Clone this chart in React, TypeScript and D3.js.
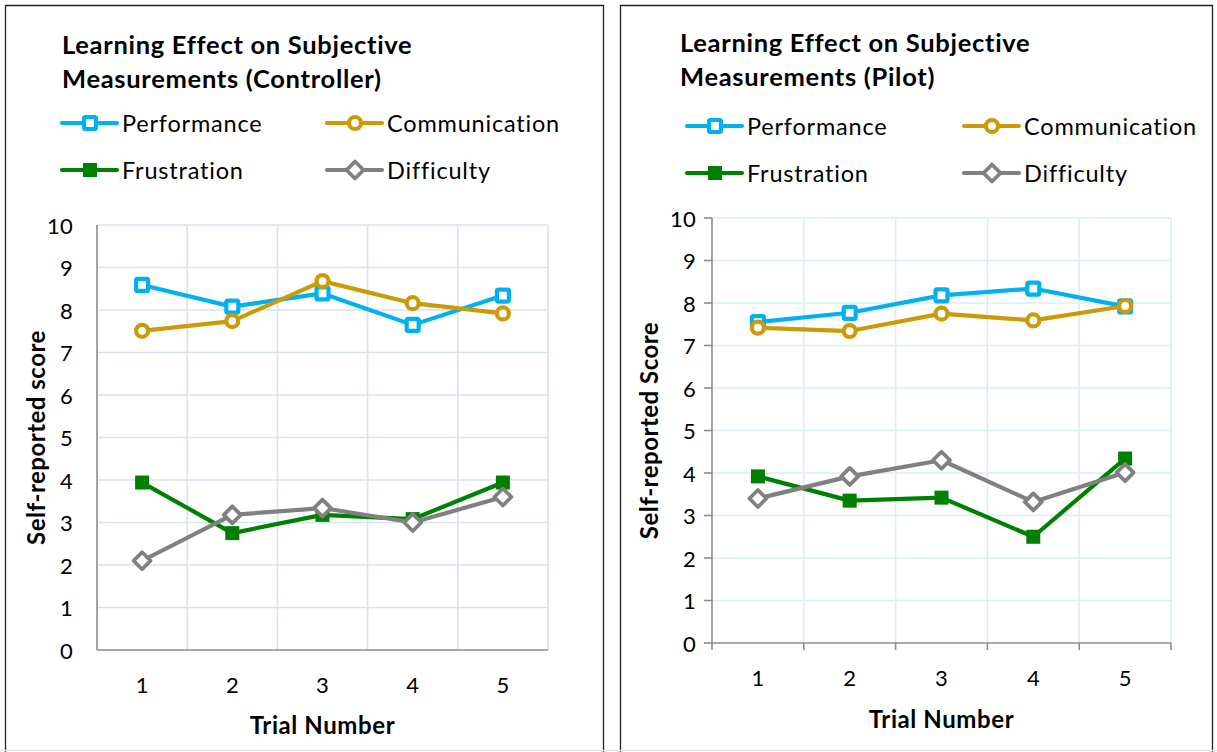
import React from "react";
import * as d3 from "d3";

const trials = ["1", "2", "3", "4", "5"];
const yTicks = [0, 1, 2, 3, 4, 5, 6, 7, 8, 9, 10];
const seriesNames = ["Performance", "Communication", "Frustration", "Difficulty"];

const controllerPerformance = [8.59, 8.08, 8.39, 7.65, 8.34];
const controllerCommunication = [7.51, 7.74, 8.68, 8.16, 7.92];
const controllerFrustration = [3.94, 2.75, 3.18, 3.08, 3.94];
const controllerDifficulty = [2.1, 3.18, 3.34, 3.0, 3.6];

const pilotPerformance = [7.55, 7.77, 8.18, 8.34, 7.92];
const pilotCommunication = [7.42, 7.34, 7.75, 7.59, 7.93];
const pilotFrustration = [3.92, 3.35, 3.42, 2.5, 4.34];
const pilotDifficulty = [3.4, 3.92, 4.3, 3.32, 4.01];

const COLORS: Record<string, string> = {
  Performance: "#00B0F0",
  Communication: "#CC9A06",
  Frustration: "#008000",
  Difficulty: "#808080",
};

const FONT = "Lato, 'Open Sans', sans-serif";

function Marker({ name, x, y }: { name: string; x: number; y: number }) {
  const c = COLORS[name];
  if (name === "Performance")
    return <rect x={x - 6} y={y - 6} width={12} height={12} rx={1.5} fill="#fff" stroke={c} strokeWidth={4.2} />;
  if (name === "Communication")
    return <circle cx={x} cy={y} r={6} fill="#fff" stroke={c} strokeWidth={4.2} />;
  if (name === "Frustration")
    return <rect x={x - 7} y={y - 7} width={14} height={14} fill={c} />;
  return <path d={`M${x},${y - 8.5}L${x + 8.5},${y}L${x},${y + 8.5}L${x - 8.5},${y}Z`} fill="#fff" stroke={c} strokeWidth={3.8} strokeLinejoin="round" />;
}

type PanelProps = {
  title: string[];
  titleX: number;
  titleY: number[];
  yTitle: string;
  yTitleX: number;
  legendX: number[];
  legendY: number[];
  data: number[][];
  x0: number;
  x1: number;
  yBottom: number;
  yTop: number;
  gridColor: string;
  tickMarks: boolean;
  yLabelGap: number;
  xLabelY: number;
  xTitleY: number;
};

function Panel(p: PanelProps) {
  const x = d3.scaleBand<string>().domain(trials).range([p.x0, p.x1]).padding(0);
  const y = d3.scaleLinear().domain([0, 10]).range([p.yBottom, p.yTop]);
  const bw = x.bandwidth();
  const cx = (t: string) => (x(t) as number) + bw / 2;
  const line = d3
    .line<number>()
    .x((_, i) => cx(trials[i]))
    .y((v) => y(v));
  const boundaries = trials.map((t) => (x(t) as number) + bw);
  const midX = (p.x0 + p.x1) / 2;
  const midY = (p.yBottom + p.yTop) / 2;
  return (
    <g fontFamily={FONT}>
      {p.title.map((t, i) => (
        <text key={i} x={p.titleX} y={p.titleY[i]} fontSize={25.5} letterSpacing={0.7} fontWeight="bold" fill="#000">
          {t}
        </text>
      ))}
      {seriesNames.map((s, i) => {
        const lx = p.legendX[i % 2];
        const ly = p.legendY[Math.floor(i / 2)];
        return (
          <g key={s}>
            <line x1={lx} x2={lx + 55} y1={ly} y2={ly} stroke={COLORS[s]} strokeWidth={4.2} strokeLinecap="round" />
            <Marker name={s} x={lx + 28} y={ly} />
            <text x={lx + 60} y={ly} dominantBaseline="central" fontSize={23.5} letterSpacing={0.8} fill="#000">
              {s}
            </text>
          </g>
        );
      })}
      {yTicks.filter((v) => v > 0).map((v) => (
        <line key={"h" + v} x1={p.x0} x2={p.x1} y1={y(v)} y2={y(v)} stroke={p.gridColor} strokeWidth={1.6} />
      ))}
      {boundaries.map((bx, i) => (
        <line key={"v" + i} x1={bx} x2={bx} y1={p.yTop} y2={p.yBottom} stroke={p.gridColor} strokeWidth={1.6} />
      ))}
      <line x1={p.x0} x2={p.x0} y1={p.yTop} y2={p.yBottom} stroke="#8C8C8C" strokeWidth={1.6} />
      <line x1={p.x0} x2={p.x1} y1={p.yBottom} y2={p.yBottom} stroke="#8C8C8C" strokeWidth={1.6} />
      {p.tickMarks &&
        yTicks.map((v) => (
          <line key={"yt" + v} x1={p.x0 - 8} x2={p.x0} y1={y(v)} y2={y(v)} stroke="#8C8C8C" strokeWidth={1.6} />
        ))}
      {p.tickMarks &&
        [p.x0, ...boundaries].map((bx, i) => (
          <line key={"xt" + i} x1={bx} x2={bx} y1={p.yBottom} y2={p.yBottom + 7} stroke="#8C8C8C" strokeWidth={1.6} />
        ))}
      {yTicks.map((v) => (
        <text key={"yl" + v} x={p.x0 - p.yLabelGap} y={y(v)} textAnchor="end" dominantBaseline="central" fontSize={22} letterSpacing={0.3} fill="#000">
          {v}
        </text>
      ))}
      {trials.map((t) => (
        <text key={"xl" + t} x={cx(t)} y={p.xLabelY} textAnchor="middle" dominantBaseline="central" fontSize={22} fill="#000">
          {t}
        </text>
      ))}
      <text x={midX} y={p.xTitleY} textAnchor="middle" dominantBaseline="central" fontSize={24} letterSpacing={0.6} fontWeight="bold" fill="#000">
        Trial Number
      </text>
      <text
        transform={`translate(${p.yTitleX},${midY}) rotate(-90)`}
        textAnchor="middle"
        dominantBaseline="central"
        fontSize={24}
        letterSpacing={0.5}
        fontWeight="bold"
        fill="#000"
      >
        {p.yTitle}
      </text>
      {seriesNames.map((s, i) => (
        <g key={s}>
          <path d={line(p.data[i]) || ""} fill="none" stroke={COLORS[s]} strokeWidth={4.2} strokeLinejoin="round" />
          {p.data[i].map((v, j) => (
            <Marker key={j} name={s} x={cx(trials[j])} y={y(v)} />
          ))}
        </g>
      ))}
    </g>
  );
}

export default function App() {
  return (
    <svg width={1217} height={752} style={{ position: "absolute", left: 0, top: 0, background: "#fff" }}>
      <rect width={1217} height={752} fill="#fff" />
      <path d="M5.5,760V5.5H603.5V760" fill="none" stroke="#222" strokeWidth={1.3} />
      <path d="M620.5,760V5.5H1212.5V760" fill="none" stroke="#222" strokeWidth={1.3} />
      <line x1={0} x2={1217} y1={750.5} y2={750.5} stroke="#E4E4E4" strokeWidth={1.5} />
      <Panel
        title={["Learning Effect on Subjective", "Measurements (Controller)"]}
        titleX={62}
        titleY={[54, 88]}
        yTitle="Self-reported score"
        yTitleX={35}
        legendX={[62, 327]}
        legendY={[123, 170]}
        data={[controllerPerformance, controllerCommunication, controllerFrustration, controllerDifficulty]}
        x0={97}
        x1={548}
        yBottom={650}
        yTop={225}
        gridColor="#D9E2EF"
        tickMarks={false}
        yLabelGap={24}
        xLabelY={684}
        xTitleY={724}
      />
      <Panel
        title={["Learning Effect on Subjective", "Measurements (Pilot)"]}
        titleX={680}
        titleY={[52, 86]}
        yTitle="Self-reported Score"
        yTitleX={648}
        legendX={[687, 964]}
        legendY={[126, 173]}
        data={[pilotPerformance, pilotCommunication, pilotFrustration, pilotDifficulty]}
        x0={712}
        x1={1171}
        yBottom={643}
        yTop={218}
        gridColor="#DAEEF3"
        tickMarks={true}
        yLabelGap={16}
        xLabelY={677}
        xTitleY={718}
      />
    </svg>
  );
}
